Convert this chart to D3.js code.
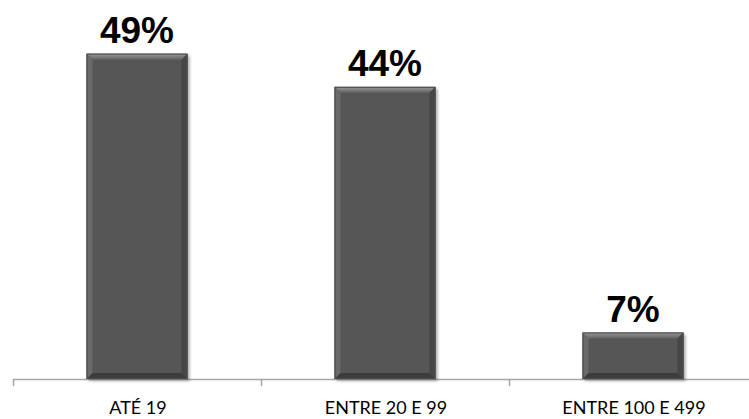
<!DOCTYPE html>
<html>
<head>
<meta charset="utf-8">
<script src="https://cdn.jsdelivr.net/npm/d3@7"></script>
<style>
  html, body { margin: 0; padding: 0; background: #fff; }
  svg { display: block; }
</style>
</head>
<body>
<svg id="chart" width="749" height="419"></svg>
<script>
const categories = ["ATÉ 19", "ENTRE 20 E 99", "ENTRE 100 E 499"];
const values = [49, 44, 7];
const valueLabels = ["49%", "44%", "7%"];

const svg = d3.select("#chart");
const W = 749, H = 419;
const baseY = 379;

const x = d3.scaleBand().domain(categories).range([13, 757]).paddingInner(0.593).paddingOuter(0.2965);
const y = d3.scaleLinear().domain([0, 50]).range([baseY, 47]);

const defs = svg.append("defs");
const f = defs.append("filter").attr("id", "shadow").attr("x", "-20%").attr("y", "-20%").attr("width", "140%").attr("height", "140%");
f.append("feDropShadow").attr("dx", 2).attr("dy", 2).attr("stdDeviation", 1.5).attr("flood-color", "#000").attr("flood-opacity", 0.35);

const gTop = defs.append("linearGradient").attr("id", "gTop").attr("x1", 0).attr("y1", 0).attr("x2", 0).attr("y2", 1);
gTop.append("stop").attr("offset", "0%").attr("stop-color", "#9a9a9a");
gTop.append("stop").attr("offset", "100%").attr("stop-color", "#626262");

// axis line and ticks
const boundaries = d3.range(categories.length + 1).map(i => x.range()[0] + i * x.step());
const axis = svg.append("g");
axis.append("line").attr("x1", 13).attr("x2", W).attr("y1", baseY + 0.5).attr("y2", baseY + 0.5)
  .attr("stroke", "#a6a6a6").attr("stroke-width", 1.5);
axis.selectAll("line.tick").data(boundaries).join("line").attr("class", "tick")
  .attr("x1", d => d + 0.5).attr("x2", d => d + 0.5).attr("y1", baseY).attr("y2", baseY + 7)
  .attr("stroke", "#a6a6a6").attr("stroke-width", 1.5);

const bev = 6;
const bars = svg.selectAll("g.bar").data(categories).join("g").attr("class", "bar");
bars.each(function(c, i) {
  const g = d3.select(this);
  const x0 = x(c), w = x.bandwidth();
  const y0 = y(values[i]), h = baseY - y0;
  g.append("rect").attr("x", x0).attr("y", y0).attr("width", w).attr("height", h)
    .attr("fill", "#565656").attr("filter", "url(#shadow)");
  // top bevel
  g.append("polygon").attr("points", [[x0, y0], [x0 + w, y0], [x0 + w - bev, y0 + bev], [x0 + bev, y0 + bev]].join(" "))
    .attr("fill", "url(#gTop)");
  // left bevel
  g.append("polygon").attr("points", [[x0, y0], [x0 + bev, y0 + bev], [x0 + bev, baseY - bev], [x0, baseY]].join(" "))
    .attr("fill", "#6a6a6a");
  // right bevel
  g.append("polygon").attr("points", [[x0 + w, y0], [x0 + w - bev, y0 + bev], [x0 + w - bev, baseY - bev], [x0 + w, baseY]].join(" "))
    .attr("fill", "#474747");
  // bottom bevel
  g.append("polygon").attr("points", [[x0, baseY], [x0 + bev, baseY - bev], [x0 + w - bev, baseY - bev], [x0 + w, baseY]].join(" "))
    .attr("fill", "#3d3d3d");
  g.append("rect").attr("x", x0 + 0.5).attr("y", y0 + 0.5).attr("width", w - 1).attr("height", h - 1)
    .attr("fill", "none").attr("stroke", "#4a4a4a").attr("stroke-width", 1);
  // value label
  g.append("text").attr("x", x0 + w / 2).attr("y", y0 - 11).attr("text-anchor", "middle")
    .attr("font-family", "Liberation Sans, Arial, sans-serif").attr("font-weight", "bold")
    .attr("font-size", 37).attr("fill", "#000").text(valueLabels[i]);
});

// category labels
svg.selectAll("text.cat").data(categories).join("text").attr("class", "cat")
  .attr("x", d => x(d) + x.bandwidth() / 2 + 1).attr("y", 414).attr("text-anchor", "middle")
  .attr("font-family", "Lato, 'Open Sans', sans-serif").attr("font-size", 18).attr("fill", "#000")
  .text(d => d);
</script>
</body>
</html>
